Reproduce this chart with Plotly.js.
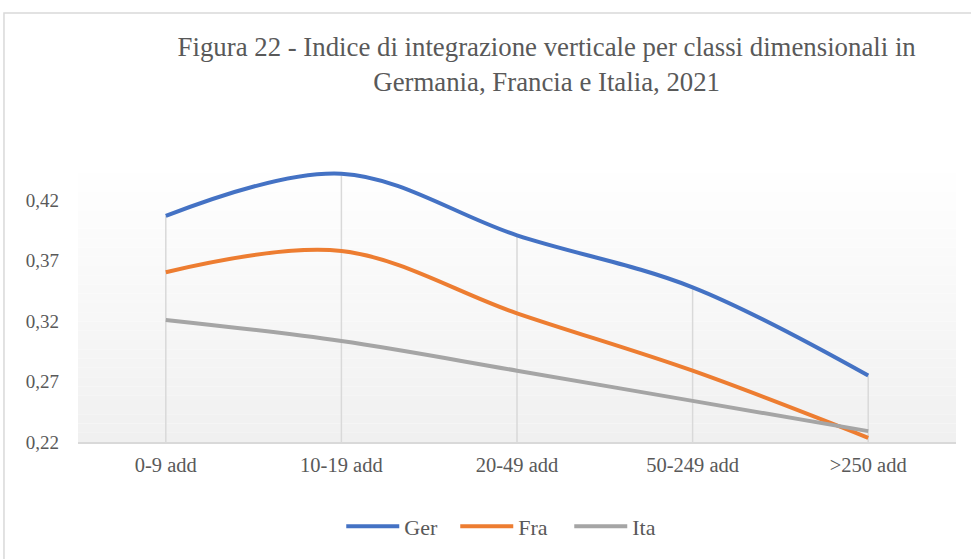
<!DOCTYPE html>
<html>
<head>
<meta charset="utf-8">
<script src="https://cdn.plot.ly/plotly-3.0.1.min.js"></script>
<style>
html,body{margin:0;padding:0;background:#fff;}
#chart{width:971px;height:559px;}
</style>
</head>
<body>
<div id="chart"></div>
<script>
const categories = ["0-9 add", "10-19 add", "20-49 add", "50-249 add", ">250 add"];
const ger = [0.407, 0.442, 0.391, 0.348, 0.275];
const fra = [0.3605, 0.378, 0.3265, 0.279, 0.2235];
const ita = [0.321, 0.3035, 0.279, 0.254, 0.229];
const yTicks = [0.22, 0.27, 0.32, 0.37, 0.42];
const seriesNames = ["Ger", "Fra", "Ita"];

const FONT = "'Liberation Serif', 'DejaVu Serif', serif";
const TXT = "#595959";

// drop lines from highest point down to the axis
const dropX = [], dropY = [];
categories.forEach((c, i) => {
  const top = Math.max(ger[i], fra[i], ita[i]);
  dropX.push(c, c, null);
  dropY.push(yTicks[0], top, null);
});

const traces = [
  {x: dropX, y: dropY, mode: "lines", line: {color: "#d9d9d9", width: 1.5},
   hoverinfo: "skip", showlegend: false},
  {x: categories, y: ger, name: seriesNames[0], mode: "lines",
   line: {color: "#4472C4", width: 4, shape: "spline", smoothing: 1}},
  {x: categories, y: fra, name: seriesNames[1], mode: "lines",
   line: {color: "#ED7D31", width: 4, shape: "spline", smoothing: 1}},
  {x: categories, y: ita, name: seriesNames[2], mode: "lines",
   line: {color: "#A5A5A5", width: 4, shape: "spline", smoothing: 1}}
];

// plot area gradient (white top -> light gray bottom)
const shapes = [];
const N = 30;
for (let k = 0; k < N; k++) {
  const t = (k + 0.5) / N;
  const v = Math.round(255 - 15 * (1 - t));
  shapes.push({type: "rect", xref: "paper", yref: "paper", x0: 0, x1: 1,
    y0: k / N, y1: (k + 1) / N, fillcolor: `rgb(${v},${v},${v})`,
    line: {width: 0}, layer: "below"});
}
// outer chart border
shapes.push({type: "rect", xref: "paper", yref: "paper",
  x0: -0.0843, x1: 1.03, y0: -0.6, y1: 1.543,
  line: {color: "#d9d9d9", width: 1.5}, fillcolor: "rgba(0,0,0,0)", layer: "below"});

const layout = {
  width: 971, height: 559,
  margin: {l: 78, r: 15, t: 164, b: 117, autoexpand: false},
  paper_bgcolor: "#fff",
  plot_bgcolor: "rgba(0,0,0,0)",
  separators: ",.",
  font: {family: FONT, color: TXT, size: 19},
  title: {
    text: "Figura 22 - Indice di integrazione verticale per classi dimensionali in<br>Germania, Francia e Italia, 2021",
    font: {family: FONT, size: 26.8, color: TXT},
    x: 0.563, xref: "container", xanchor: "center",
    y: 0.9, yref: "container", yanchor: "middle"
  },
  xaxis: {
    type: "category", range: [-0.5, 4.5],
    showgrid: false, zeroline: false,
    showline: true, linecolor: "#d9d9d9", linewidth: 1.5,
    ticks: "", ticklabelstandoff: 4,
    tickfont: {family: FONT, size: 20.5, color: TXT}
  },
  yaxis: {
    range: [0.22, 0.45], tickvals: yTicks, tickformat: ".2f",
    showgrid: false, zeroline: false, showline: false,
    ticks: "", ticklabelstandoff: 18,
    tickfont: {family: FONT, size: 19, color: TXT}
  },
  legend: {
    orientation: "h", x: 0.4946, xanchor: "center", y: -0.228, yanchor: "top",
    font: {family: FONT, size: 22, color: TXT},
    bgcolor: "rgba(0,0,0,0)", itemwidth: 53,
    entrywidth: 46, entrywidthmode: "pixels"
  },
  shapes: shapes,
  showlegend: true
};

Plotly.newPlot("chart", traces, layout, {displayModeBar: false, staticPlot: true});
</script>
</body>
</html>
